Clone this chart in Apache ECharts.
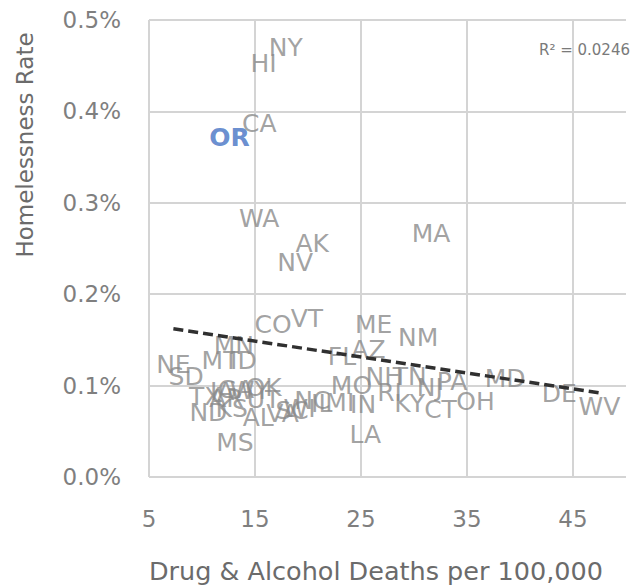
<!DOCTYPE html>
<html>
<head>
<meta charset="utf-8">
<script src="https://cdn.jsdelivr.net/npm/echarts@6/dist/echarts.min.js"></script>
<style>html,body{margin:0;padding:0;background:#fff;}#c{width:633px;height:588px;}</style>
</head>
<body>
<div id="c"></div>
<script>
const states = ['NY','HI','CA','OR','WA','AK','NV','MA','CO','VT','ME','NM','AZ','FL','MN','MT','ID','NE','SD','TX','IA','GA','WY','OK','UT','KS','ND','AR','AL','VA','SC','WI','NC','IL','MI','IN','LA','MO','MS','NH','TN','RI','NJ','PA','KY','CT','OH','MD','DE','WV'];
const drugDeaths = [17.9,15.8,15.4,12.6,15.4,20.4,18.8,31.6,16.7,19.9,26.2,30.4,25.7,23.2,13.0,11.7,13.9,7.3,8.5,10.3,11.9,13.2,14.5,15.8,15.8,12.8,10.6,12.3,15.3,17.6,18.5,19.2,20.4,21.3,23.0,25.2,25.4,24.1,13.1,27.2,29.6,27.7,31.5,33.6,29.6,32.5,35.8,38.6,43.7,47.5];
const homelessRate = [0.470,0.452,0.387,0.371,0.283,0.256,0.235,0.266,0.167,0.173,0.167,0.153,0.139,0.132,0.144,0.128,0.128,0.123,0.110,0.088,0.093,0.096,0.095,0.098,0.085,0.075,0.071,0.086,0.065,0.070,0.073,0.075,0.084,0.080,0.082,0.079,0.047,0.100,0.038,0.110,0.110,0.092,0.098,0.105,0.080,0.074,0.083,0.108,0.091,0.077];
const highlight = 'OR';
const xTicks = [5, 15, 25, 35, 45];
const yTicks = [0, 0.1, 0.2, 0.3, 0.4, 0.5];
const r2Text = 'R² = 0.0246';

// linear regression for trend line
const n = drugDeaths.length;
let sx=0, sy=0, sxx=0, sxy=0;
for (let i=0;i<n;i++){ sx+=drugDeaths[i]; sy+=homelessRate[i]; sxx+=drugDeaths[i]*drugDeaths[i]; sxy+=drugDeaths[i]*homelessRate[i]; }
const slope = (n*sxy - sx*sy)/(n*sxx - sx*sx);
const intercept = (sy - slope*sx)/n;
const xMin = Math.min(...drugDeaths), xMax = Math.max(...drugDeaths);
const trend = [[xMin, intercept + slope*xMin], [xMax, intercept + slope*xMax]];

const FONT = 'DejaVu Sans';
const pts = states.map((s,i)=>({
  value:[drugDeaths[i], homelessRate[i], s],
  label: s===highlight ? {color:'#4472c4', fontWeight:'bold'} : undefined
}));

const chart = echarts.init(document.getElementById('c'), null, {renderer:'svg'});
chart.setOption({
  animation:false,
  grid:{left:149, right:7, top:20, bottom:111, containLabel:false},
  xAxis:{
    type:'value', min:xTicks[0], max:50, interval:10,
    axisLine:{show:false}, axisTick:{show:false},
    axisLabel:{color:'#7f7f7f', fontFamily:FONT, fontSize:23, margin:30, showMaxLabel:false},
    splitLine:{show:true, showMaxLine:false, lineStyle:{color:'#d4d4d4', width:2}}
  },
  yAxis:{
    type:'value', min:yTicks[0], max:yTicks[yTicks.length-1], interval:0.1,
    axisLine:{show:false}, axisTick:{show:false},
    axisLabel:{color:'#7f7f7f', fontFamily:FONT, fontSize:23, margin:28, formatter:v=>v.toFixed(1)+'%'},
    splitLine:{show:true, lineStyle:{color:'#d4d4d4', width:2}}
  },
  graphic:[
    {type:'text', x:25, y:145, rotation:Math.PI/2, style:{text:'Homelessness Rate', fill:'#6b6b6b', font:'23px "DejaVu Sans"', align:'center', verticalAlign:'middle'}},
    {type:'text', x:376, y:571, style:{text:'Drug & Alcohol Deaths per 100,000', fill:'#6b6b6b', font:'25.5px "DejaVu Sans"', align:'center', verticalAlign:'middle'}},
    {type:'text', x:630, y:50, style:{text:r2Text, fill:'#7a7a7a', font:'15px "DejaVu Sans"', align:'right', verticalAlign:'middle'}}
  ],
  series:[
    {
      type:'scatter', symbolSize:0, data:pts, z:2,
      label:{show:true, position:'inside', formatter:p=>p.value[2], color:'#8a8a8a', fontFamily:FONT, fontSize:25}
    },
    {
      type:'line', data:trend, symbol:'none', z:5, silent:true,
      lineStyle:{color:'#303030', width:3.5, type:[10,5]}
    }
  ]
});
</script>
</body>
</html>
